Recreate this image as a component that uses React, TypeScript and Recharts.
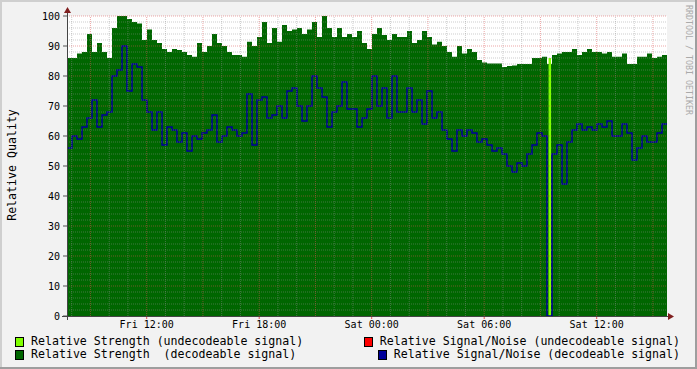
import { ComposedChart, Area, Line, XAxis, YAxis, CartesianGrid, ReferenceLine } from "recharts"

// sample times are minutes from Fri 00:00, one rrd sample every 16 min
const START_MIN = 465
const STEP_MIN = 16

const strength = [
  86, 86, 87.5, 88, 94, 88, 91, 88, 86, 96,
  100, 100, 99, 98, 97.5, 92, 95.5, 92, 91, 89,
  88, 89, 88.7, 88, 87, 86.4, 91, 88, 90, 94,
  91, 90, 88, 87, 87, 86.4, 91.4, 90, 93, 98,
  91, 96, 91.4, 97, 95, 95.5, 96, 94, 95.5, 98,
  93, 100, 96, 93, 96, 93, 94, 93, 95, 91,
  89, 94, 96, 93.7, 92, 94, 93, 93, 95, 91,
  92, 95, 93, 90.5, 91.4, 90, 88, 86.4, 90, 87.5,
  89, 88, 85.3, 84.5, 84.2, 84.2, 84.2, 83, 83.3, 83.5,
  84, 84, 84, 86, 86, 86.4, 84, 87, 87.5, 88,
  88, 89, 87, 88, 89, 88, 88, 87.5, 88, 86.4,
  86.4, 87.5, 84, 84, 86.4, 86.4, 87.5, 86, 86.4, 87,
]

const signalNoise = [
  56, 60, 59, 63, 66, 72, 63, 67, 68, 80,
  82, 90, 75, 84, 83, 72, 68, 62, 68, 57,
  63, 62, 58, 61, 55, 60, 59, 61, 62, 67,
  58, 60, 63, 62, 60, 61, 74, 57, 72, 73,
  66, 67, 70, 66, 75, 76, 70, 65, 70, 80,
  76, 73, 63, 68, 70, 78, 69, 69, 63, 66,
  69, 80, 70, 76, 66, 80, 68, 68, 76, 68,
  72, 64, 75, 66, 68, 62, 59, 55, 62, 60,
  62, 61, 58, 59, 57, 55, 56, 54, 50, 48,
  51, 50, 54, 57, 61, 60, 0, 54, 57, 44,
  58, 62, 64, 62, 63, 62, 64, 63, 65, 60,
  60, 64, 61, 52, 56, 60, 58, 58, 61, 64,
]

// the one undecodeable sample
const undecodeableTimes = [2006, 2014]
const undecodeableStrength = [86, 86]

const timeTicks = [720, 1080, 1440, 1800, 2160]
const qualityTicks = [0, 10, 20, 30, 40, 50, 60, 70, 80, 90, 100]

const END_MIN = START_MIN + strength.length * STEP_MIN

const rows = strength.map((s, i) => ({
  t: START_MIN + i * STEP_MIN,
  strength: s,
  snr: signalNoise[i],
}))
rows.push({ t: END_MIN, strength: strength[strength.length - 1], snr: signalNoise[signalNoise.length - 1] })

const limeRows = undecodeableTimes.map((t, i) => ({ t, undec: undecodeableStrength[i] }))

// grid positions
const hourLines: number[] = []
const threeHourLines: number[] = []
for (let m = 480; m < END_MIN; m += 60) {
  if (m % 180 === 0) threeHourLines.push(m)
  else hourLines.push(m)
}
const minorY: number[] = []
for (let v = 2; v < 100; v += 2) if (v % 10 !== 0) minorY.push(v)
const majorY = [10, 20, 30, 40, 50, 60, 70, 80, 90, 100]

const MINOR = "rgba(143,143,143,0.45)"
const MAJOR = "rgba(222,79,79,0.5)"

const FONT = "'DejaVu Sans Mono', monospace"

function fmtTime(t: number) {
  const day = t < 1440 ? "Fri" : "Sat"
  const h = Math.floor((t % 1440) / 60)
  return `${day} ${String(h).padStart(2, "0")}:00`
}

const legendLeft = [
  { color: "#80ff00", text: "Relative Strength (undecodeable signal)" },
  { color: "#006600", text: "Relative Strength  (decodeable signal)" },
]
const legendRight = [
  { color: "#ff0000", text: "Relative Signal/Noise (undecodeable signal)" },
  { color: "#000099", text: "Relative Signal/Noise (decodeable signal)" },
]

function Box({ color }: { color: string }) {
  return (
    <span
      style={{
        display: "inline-block",
        width: 7,
        height: 8,
        background: color,
        border: "1px solid #000",
        marginRight: 7,
      }}
    />
  )
}

export default function App() {
  return (
    <div style={{ position: "relative", width: 697, height: 369, background: "#f2f2f2", fontFamily: FONT }}>
      <style>{`body{margin:0}`}</style>
      <ComposedChart width={697} height={369} data={rows} margin={{ top: 16, right: 30, bottom: 33, left: 0 }}>
        <CartesianGrid horizontal={false} vertical={false} fill="#fff" />
        <XAxis
          dataKey="t"
          type="number"
          domain={[START_MIN, END_MIN]}
          ticks={timeTicks}
          tickFormatter={fmtTime}
          height={20}
          axisLine={false}
          tickLine={{ stroke: "#de4f4f" }}
          tickSize={3}
          tickMargin={2}
          tick={{ fill: "#000", fontSize: 10, fontFamily: FONT }}
          allowDataOverflow
        />
        <YAxis
          domain={[0, 100]}
          ticks={qualityTicks}
          width={67}
          axisLine={false}
          tickLine={{ stroke: "#555" }}
          tickSize={4}
          tickMargin={3}
          tick={{ fill: "#000", fontSize: 10, fontFamily: FONT }}
          allowDataOverflow
        />
        <Area
          type="stepAfter"
          dataKey="strength"
          stroke="none"
          fill="#006600"
          fillOpacity={1}
          isAnimationActive={false}
        />
        <Area
          data={limeRows}
          type="stepAfter"
          dataKey="undec"
          stroke="none"
          fill="#80ff00"
          fillOpacity={1}
          isAnimationActive={false}
        />
        <Line
          type="stepAfter"
          dataKey="snr"
          stroke="#000099"
          strokeWidth={1.5}
          dot={false}
          isAnimationActive={false}
        />
        {minorY.map((v) => (
          <ReferenceLine key={`my${v}`} y={v} stroke={MINOR} strokeDasharray="1 1" zIndex={1000} />
        ))}
        {hourLines.map((v) => (
          <ReferenceLine key={`mx${v}`} x={v} stroke={MINOR} strokeDasharray="1 1" zIndex={1000} />
        ))}
        {majorY.map((v) => (
          <ReferenceLine key={`My${v}`} y={v} stroke={MAJOR} strokeDasharray="1 1" zIndex={1000} />
        ))}
        {threeHourLines.map((v) => (
          <ReferenceLine key={`Mx${v}`} x={v} stroke={MAJOR} strokeDasharray="1 1" zIndex={1000} />
        ))}
      </ComposedChart>

      {/* frame, axes and arrows */}
      <svg width={697} height={369} style={{ position: "absolute", left: 0, top: 0, pointerEvents: "none" }}>
        <rect x={0} y={0} width={697} height={2} fill="#cfcfcf" />
        <rect x={0} y={0} width={2} height={369} fill="#cfcfcf" />
        <rect x={0} y={367} width={697} height={2} fill="#9e9e9e" />
        <rect x={695} y={0} width={2} height={369} fill="#9e9e9e" />
        <line x1={67.5} y1={320} x2={67.5} y2={10} stroke="#444" strokeWidth={1} />
        <line x1={62} y1={316.5} x2={670} y2={316.5} stroke="#444" strokeWidth={1} />
        <polygon points="64,13 71,13 67.5,7" fill="#801f1f" />
        <polygon points="668,313 668,320 674,316.5" fill="#801f1f" />
      </svg>

      <div
        style={{
          position: "absolute",
          left: 12,
          top: 164.5,
          transform: "translate(-50%, -50%) rotate(-90deg)",
          fontSize: 11.6,
          whiteSpace: "nowrap",
          color: "#000",
        }}
      >
        Relative Quality
      </div>
      <div
        style={{
          position: "absolute",
          left: 688.5,
          top: 60,
          transform: "translate(-50%, -50%) rotate(90deg)",
          fontSize: 8.3,
          whiteSpace: "nowrap",
          color: "#aaa",
        }}
      >
        RRDTOOL / TOBI OETIKER
      </div>

      {legendLeft.map((l, i) => (
        <div
          key={l.text}
          style={{
            position: "absolute",
            left: 15,
            top: 335 + i * 13,
            fontSize: 11.6,
            lineHeight: "13px",
            whiteSpace: "pre",
            display: "flex",
            alignItems: "center",
          }}
        >
          <Box color={l.color} />
          {l.text}
        </div>
      ))}
      {legendRight.map((l, i) => (
        <div
          key={l.text}
          style={{
            position: "absolute",
            right: 17,
            top: 335 + i * 13,
            fontSize: 11.6,
            lineHeight: "13px",
            whiteSpace: "pre",
            display: "flex",
            alignItems: "center",
          }}
        >
          <Box color={l.color} />
          {l.text}
        </div>
      ))}
    </div>
  )
}
